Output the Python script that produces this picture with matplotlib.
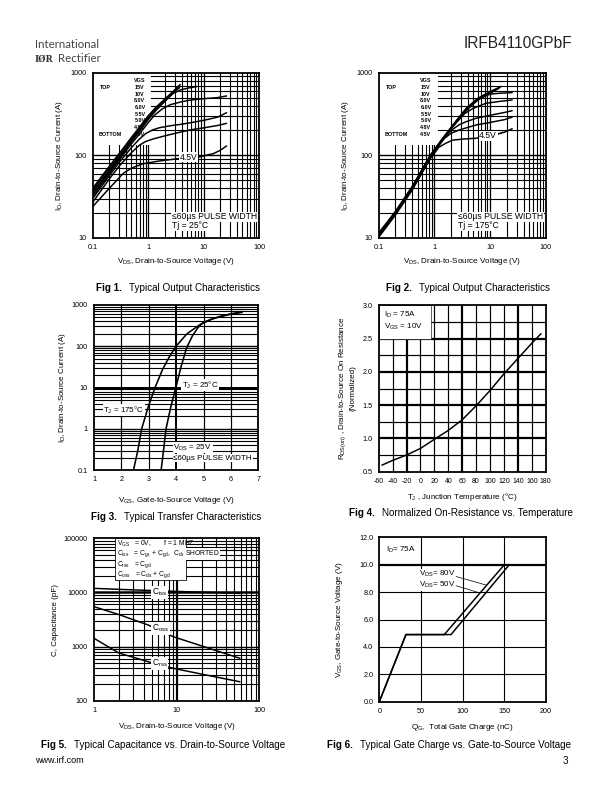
import matplotlib
matplotlib.use("Agg")
import matplotlib.pyplot as plt
from matplotlib.patches import Rectangle
from matplotlib.lines import Line2D
from matplotlib.ticker import NullLocator, FuncFormatter

plt.rcParams['font.family'] = ['Liberation Sans', 'DejaVu Sans']
plt.rcParams['mathtext.default'] = 'regular'
plt.rcParams['axes.unicode_minus'] = False

W, H = 612, 792
fig = plt.figure(figsize=(W / 72, H / 72), dpi=72)

# ------------------------------------------------------------------ data
vgs_labels = ["15V", "10V", "8.0V", "6.0V", "5.5V", "5.0V", "4.8V", "4.5V"]

# Fig 1 : Tj = 25 C
f1_v15 = [0.1, 0.2, 0.3, 0.5, 0.7, 1.0, 1.4, 2.0, 2.8, 3.8]
f1_i15 = [40, 74, 105, 165, 220, 300, 385, 480, 590, 720]
f1_v10 = [0.1, 0.2, 0.3, 0.5, 0.7, 1.0, 1.4, 2.0, 2.8, 3.6]
f1_i10 = [38, 70, 100, 158, 212, 290, 375, 470, 580, 690]
f1_v8 = [0.1, 0.2, 0.3, 0.5, 0.7, 1.0, 1.4, 2.0, 3.0, 3.7]
f1_i8 = [36, 66, 95, 150, 202, 278, 362, 455, 590, 660]
f1_v6 = [0.1, 0.2, 0.3, 0.5, 0.7, 1.0, 1.4, 2.0, 2.8, 4.0, 5.5, 7.5]
f1_i6 = [34, 63, 92, 146, 196, 270, 352, 450, 560, 625, 655, 680]
f1_v55 = [0.1, 0.2, 0.3, 0.5, 0.7, 1.0, 1.3, 1.8, 2.5, 4.0, 6.0, 10, 18, 26]
f1_i55 = [32, 60, 88, 138, 182, 248, 305, 365, 410, 445, 468, 485, 500, 523]
f1_v50 = [0.1, 0.2, 0.3, 0.5, 0.7, 0.9, 1.2, 1.6, 2.5, 4.0, 6.0, 10, 18, 26]
f1_i50 = [30, 57, 82, 124, 158, 183, 203, 216, 228, 238, 249, 265, 290, 328]
f1_v48 = [0.1, 0.2, 0.3, 0.5, 0.7, 0.9, 1.2, 1.8, 3.0, 5.7, 10, 18, 26]
f1_i48 = [27, 52, 74, 108, 133, 147, 157, 169, 184, 203, 215, 230, 244]
f1_v45 = [0.1, 0.2, 0.36, 0.5, 0.8, 1.5, 3.8, 8.6, 15, 20, 26]
f1_i45 = [24, 40, 61, 70, 79, 85, 92, 96, 105, 115, 130]

# Fig 2 : Tj = 175 C
f2_v15 = [0.1, 0.2, 0.4, 0.85, 1.5, 2.5, 3.8, 6.0, 10, 15.7]
f2_i15 = [11.5, 21, 42, 101, 170, 265, 375, 490, 590, 680]
f2_v10 = [0.1, 0.2, 0.4, 0.85, 1.5, 2.5, 3.8, 6.0, 10, 15]
f2_i10 = [11, 20.5, 41, 100, 168, 262, 370, 480, 575, 660]
f2_v8 = [0.1, 0.2, 0.4, 0.85, 1.5, 2.5, 3.8, 6.0, 10, 14]
f2_i8 = [10.5, 20, 40, 98, 165, 258, 365, 470, 560, 640]
f2_v6 = [0.1, 0.2, 0.4, 0.85, 1.5, 2.5, 3.8, 5.0, 7.0, 10, 15, 25]
f2_i6 = [11, 20.5, 41, 99, 166, 258, 350, 420, 500, 550, 565, 573]
f2_v55 = [0.1, 0.2, 0.4, 0.85, 1.5, 2.5, 3.5, 4.9, 8.5, 15, 25]
f2_i55 = [11, 20.5, 41, 99, 165, 250, 320, 369, 427, 450, 468]
f2_v50 = [0.1, 0.2, 0.4, 0.85, 1.5, 2.0, 2.8, 3.7, 5.6, 10, 18, 25]
f2_i50 = [10.8, 20, 40, 98, 160, 200, 235, 255, 281, 305, 330, 347]
f2_v48 = [0.1, 0.2, 0.4, 0.85, 1.5, 2.0, 2.8, 5.6, 10, 18, 25]
f2_i48 = [10.5, 19.5, 39, 96, 160, 185, 203, 233, 250, 270, 290]
f2_v45 = [0.1, 0.2, 0.4, 0.85, 1.2, 1.6, 2.14, 3.5, 5.6, 10, 18, 25]
f2_i45 = [10.2, 19, 38, 92, 125, 140, 153, 158, 161, 172, 190, 210]

# Fig 3 : transfer characteristics
f3_vgs_175 = [2.44, 2.6, 2.74, 2.98, 3.23, 3.5, 3.75, 4.0, 4.4, 4.87, 5.3, 5.6, 6.0, 6.4]
f3_id_175 = [0.1, 0.3, 1.0, 3.4, 10, 27, 55, 100, 200, 330, 450, 520, 590, 650]
f3_vgs_25 = [3.45, 3.55, 3.63, 3.8, 3.99, 4.18, 4.38, 4.6, 4.8, 5.0, 5.4, 5.9, 6.4]
f3_id_25 = [0.1, 0.35, 1.0, 3.3, 10, 32, 90, 180, 280, 380, 470, 580, 680]

# Fig 4 : normalized Rds(on) vs Tj
f4_tj = [-55, -40, -20, 0, 25, 40, 60, 80, 100, 120, 140, 160, 173]
f4_r = [0.60, 0.67, 0.75, 0.85, 1.02, 1.12, 1.28, 1.49, 1.72, 1.97, 2.20, 2.43, 2.57]

# Fig 5 : capacitance
f5_vds = [1, 2, 4.5, 9.1, 20, 40, 58]
f5_ciss = [11900, 11400, 10900, 10500, 10100, 9800, 9600]
f5_coss = [5460, 3900, 2510, 1520, 1030, 730, 608]
f5_crss = [1420, 760, 526, 397, 310, 251, 224]

# Fig 6 : gate charge
f6_qg_80 = [0, 32, 86, 156]
f6_vgs_80 = [0, 4.9, 4.9, 10.0]
f6_qg_50 = [0, 32, 78, 150]
f6_vgs_50 = [0, 4.9, 4.9, 10.0]

TICK = 7.3
ALAB = 8
ANN = 8
CAP = 9.9


# ------------------------------------------------------------------ helpers
def make_ax(l, t, r, b):
    ax = fig.add_axes([l / W, 1 - b / H, (r - l) / W, (b - t) / H])
    for s in ax.spines.values():
        s.set_linewidth(1.8)
        s.set_color('black')
        s.set_zorder(6)
    ax.tick_params(which='both', length=0, labelsize=TICK, pad=6)
    return ax


def vlines(ax, xs, lw):
    for x in xs:
        ax.axvline(x, color='black', lw=lw, zorder=1)


def hlines(ax, ys, lw):
    for y in ys:
        ax.axhline(y, color='black', lw=lw, zorder=1)


def minors(decades):
    return [m * 10.0 ** e for e in decades for m in range(2, 10)]


def ptext(x, y, s, size=ANN, box=False, **kw):
    bb = dict(boxstyle='square,pad=0.08', fc='white', ec='none') if box else None
    return fig.text(x / W, 1 - y / H, s, fontsize=size, va='center', ha='left',
                    bbox=bb, zorder=8, **kw)


def pline(x1, y1, x2, y2, lw=0.7):
    fig.add_artist(Line2D([x1 / W, x2 / W], [1 - y1 / H, 1 - y2 / H],
                          color='black', lw=lw, zorder=8))


def labels(ax, xl, yl, xoff, yoff, size=ALAB):
    ax.set_xlabel(xl, fontsize=size)
    ax.set_ylabel(yl, fontsize=size)
    ax.xaxis.set_label_coords(0.5, xoff)
    ax.yaxis.set_label_coords(yoff, 0.5)
    ax.xaxis.label.set_va('center')
    ax.yaxis.label.set_va('center')


gfmt = FuncFormatter(lambda v, p: f"{v:g}")


def output_chart(l, t, r, b, curves, tj_text, legend_x):
    ax = make_ax(l, t, r, b)
    ax.set_xscale('log')
    ax.set_yscale('log')
    ax.set_xlim(0.1, 100)
    ax.set_ylim(10, 1000)
    vlines(ax, minors([-1, 0, 1]), 1.1)
    vlines(ax, [1, 10], 1.3)
    hlines(ax, minors([1, 2]), 1.1)
    hlines(ax, [100], 1.4)
    ax.add_patch(Rectangle((0.1, 133), 1.05, 867, fc='white', ec='none', zorder=2))
    for vx, iy in curves:
        ax.plot(vx, iy, color='black', lw=1.5, zorder=3, solid_capstyle='round')
    ax.set_xticks([0.1, 1, 10, 100])
    ax.set_yticks([10, 100, 1000])
    ax.xaxis.set_major_formatter(gfmt)
    ax.yaxis.set_major_formatter(gfmt)
    ax.xaxis.set_minor_locator(NullLocator())
    ax.yaxis.set_minor_locator(NullLocator())
    labels(ax, r'V$_{DS}$, Drain-to-Source Voltage (V)',
           r'I$_D$, Drain-to-Source Current (A)', -0.14, -0.2)
    # VGS legend
    ys = [81, 87.7, 94.3, 101, 107.7, 114.3, 121, 127.7, 134.3]
    ptext(legend_x, ys[0], "VGS", size=5.4, weight='bold')
    for yy, lab in zip(ys[1:], vgs_labels):
        ptext(legend_x, yy, lab, size=5.4, weight='bold')
    ptext(legend_x - 34, ys[1], "TOP", size=5.4, weight='bold')
    ptext(legend_x - 36, ys[-1], "BOTTOM", size=5.4, weight='bold')
    ptext(l + 79, 216.7, "\u226460\u00b5s PULSE WIDTH", size=8.6, box=True)
    ptext(l + 79.6, 225.7, tj_text, size=8.6, box=True)
    return ax


# ------------------------------------------------------------------ Fig 1
ax1 = output_chart(92.7, 72.7, 259, 238,
                   [(f1_v15, f1_i15), (f1_v10, f1_i10), (f1_v8, f1_i8), (f1_v6, f1_i6),
                    (f1_v55, f1_i55), (f1_v50, f1_i50), (f1_v48, f1_i48), (f1_v45, f1_i45)],
                   "Tj = 25\u00b0C", 134.3)
ptext(180, 157.3, "4.5V", size=8.6, box=True)

# ------------------------------------------------------------------ Fig 2
ax2 = output_chart(378.7, 72.7, 545.7, 238,
                   [(f2_v15, f2_i15), (f2_v10, f2_i10), (f2_v8, f2_i8), (f2_v6, f2_i6),
                    (f2_v55, f2_i55), (f2_v50, f2_i50), (f2_v48, f2_i48), (f2_v45, f2_i45)],
                   "Tj = 175\u00b0C", 420.3)
ptext(479.3, 136, "4.5V", size=8.6, box=True)
pline(497.5, 134.5, 503, 131.7)

# ------------------------------------------------------------------ Fig 3
ax3 = make_ax(94, 304.7, 258.3, 470.3)
ax3.set_xlim(1, 7)
ax3.set_yscale('log')
ax3.set_ylim(0.1, 1000)
vlines(ax3, [2, 3, 5, 6], 1.2)
vlines(ax3, [4], 2.0)
hlines(ax3, minors([-1, 0, 1, 2]), 1.1)
hlines(ax3, [1, 100], 1.4)
hlines(ax3, [10], 3.0)
ax3.plot(f3_vgs_175, f3_id_175, color='black', lw=1.6, zorder=3)
ax3.plot(f3_vgs_25, f3_id_25, color='black', lw=1.6, zorder=3)
ax3.set_xticks(range(1, 8))
ax3.set_yticks([0.1, 1, 10, 100, 1000])
ax3.yaxis.set_major_formatter(gfmt)
ax3.yaxis.set_minor_locator(NullLocator())
labels(ax3, r'V$_{GS}$, Gate-to-Source Voltage (V)',
       r'I$_D$, Drain-to-Source Current (A)', -0.18, -0.19)
ptext(181.7, 385, "T$_J$ = 25\u00b0C", box=True)
ptext(103.3, 410, "T$_J$ = 175\u00b0C", box=True)
ptext(173.3, 447.7, "V$_{DS}$ = 25V", box=True)
ptext(173.3, 458.3, "\u226460\u00b5s PULSE WIDTH", box=True)

# ------------------------------------------------------------------ Fig 4
ax4 = make_ax(378.7, 305.3, 545.7, 471.7)
ax4.set_xlim(-60, 180)
ax4.set_ylim(0.5, 3.0)
vlines(ax4, [-40, 0, 20, 40, 80, 100, 120, 160], 1.2)
vlines(ax4, [-20, 60, 140], 2.2)
hlines(ax4, [0.75, 1.25, 1.75, 2.25, 2.75], 1.2)
hlines(ax4, [1.0, 1.5, 2.0, 2.5], 2.2)
ax4.add_patch(Rectangle((-60, 2.49), 75, 0.51, fc='white', ec='black', lw=0.6, zorder=4))
ax4.plot(f4_tj, f4_r, color='black', lw=1.5, zorder=3)
ax4.set_xticks(range(-60, 181, 20))
ax4.set_yticks([0.5, 1.0, 1.5, 2.0, 2.5, 3.0])
ax4.yaxis.set_major_formatter(FuncFormatter(lambda v, p: f"{v:.1f}"))
ax4.tick_params(axis='x', labelsize=7)
labels(ax4, "T$_J$ , Junction Temperature (\u00b0C)",
       "R$_{DS(on)}$ , Drain-to-Source On Resistance\n(Normalized)", -0.15, -0.19)
ax4.yaxis.label.set_multialignment('center')
ptext(384.3, 315, "I$_D$ = 75A")
ptext(384.3, 326.7, "V$_{GS}$ = 10V")

# ------------------------------------------------------------------ Fig 5
ax5 = make_ax(94, 538.3, 259.3, 700.7)
ax5.set_xscale('log')
ax5.set_yscale('log')
ax5.set_xlim(1, 100)
ax5.set_ylim(100, 100000)
vlines(ax5, minors([0, 1]), 1.1)
vlines(ax5, [10], 2.2)
hlines(ax5, minors([2, 3, 4]), 1.1)
hlines(ax5, [1000], 1.4)
hlines(ax5, [10000], 2.5)
ax5.add_patch(Rectangle((1.8, 17000), 11.2, 83000, fc='white', ec='black', lw=0.8, zorder=4))
for cdat in (f5_ciss, f5_coss, f5_crss):
    ax5.plot(f5_vds, cdat, color='black', lw=1.5, zorder=3)
ax5.set_xticks([1, 10, 100])
ax5.set_yticks([100, 1000, 10000, 100000])
ax5.xaxis.set_major_formatter(gfmt)
ax5.yaxis.set_major_formatter(gfmt)
ax5.xaxis.set_minor_locator(NullLocator())
ax5.yaxis.set_minor_locator(NullLocator())
labels(ax5, r'V$_{DS}$, Drain-to-Source Voltage (V)', 'C, Capacitance (pF)', -0.16, -0.235)
ptext(116.7, 543.5, "V$_{GS}$   = 0V,       f = 1 MHZ", size=6.8)
ptext(116.7, 554, "C$_{iss}$   = C$_{gs}$ + C$_{gd}$,  C$_{ds}$ SHORTED", size=6.8, box=True)
ptext(116.7, 564.8, "C$_{rss}$   = C$_{gd}$", size=6.8)
ptext(116.7, 575, "C$_{oss}$   = C$_{ds}$ + C$_{gd}$", size=6.8)
ptext(151.7, 592.3, "C$_{iss}$", size=8.5, box=True)
ptext(151.7, 628.3, "C$_{oss}$", size=8.5, box=True)
ptext(151.7, 663.3, "C$_{rss}$", size=8.5, box=True)

# ------------------------------------------------------------------ Fig 6
ax6 = make_ax(379.3, 537.3, 546, 701.7)
ax6.set_xlim(0, 200)
ax6.set_ylim(0, 12)
vlines(ax6, [50, 100, 150], 1.1)
hlines(ax6, [2, 4, 6, 8], 1.1)
hlines(ax6, [10], 2.2)
ax6.plot(f6_qg_80, f6_vgs_80, color='black', lw=1.5, zorder=3)
ax6.plot(f6_qg_50, f6_vgs_50, color='black', lw=1.5, zorder=3)
ax6.set_xticks([0, 50, 100, 150, 200])
ax6.set_yticks(range(0, 13, 2))
ax6.yaxis.set_major_formatter(FuncFormatter(lambda v, p: f"{v:.1f}"))
labels(ax6, "Q$_G$,  Total Gate Charge (nC)", "V$_{GS}$, Gate-to-Source Voltage (V)",
       -0.156, -0.236)
ptext(386, 550, "I$_D$= 75A")
ptext(418.7, 574.3, "V$_{DS}$= 80V", box=True)
ptext(418.7, 585, "V$_{DS}$= 50V", box=True)
pline(456, 576.5, 486, 585)
pline(456, 585.7, 477.7, 592.3)

# ------------------------------------------------------------------ captions
renderer = fig.canvas.get_renderer()


def caption(x, y, num, rest):
    t = ptext(x, y, f"Fig {num}.", size=CAP, weight='bold')
    bb = t.get_window_extent(renderer)
    fig.text((bb.x1 + 7) / W, 1 - y / H, rest, fontsize=CAP, va='center', ha='left')


caption(95.7, 287.7, 1, "Typical Output Characteristics")
caption(386, 287.7, 2, "Typical Output Characteristics")
caption(90.7, 517.3, 3, "Typical Transfer Characteristics")
caption(349, 512.7, 4, "Normalized On-Resistance vs. Temperature")
caption(40.7, 745, 5, "Typical Capacitance vs. Drain-to-Source Voltage")
caption(327, 745, 6, "Typical Gate Charge vs. Gate-to-Source Voltage")

# ------------------------------------------------------------------ header / footer
ptext(35, 44, "International", size=11.5, color='#444444', family='Lato')
ptext(35, 59, "I\u00d8R", size=8.5, weight='bold', family='DejaVu Serif', color='#333333')
ptext(58, 59, "Rectifier", size=11.5, color='#444444', family='Lato')
fig.text(572 / W, 1 - 44 / H, "IRFB4110GPbF", fontsize=15.5, ha='right', va='center',
         color='#222222')
ptext(35, 760.7, "www.irf.com", size=9)
ptext(563, 760.7, "3", size=10)

fig.savefig("out.png", dpi=72)
